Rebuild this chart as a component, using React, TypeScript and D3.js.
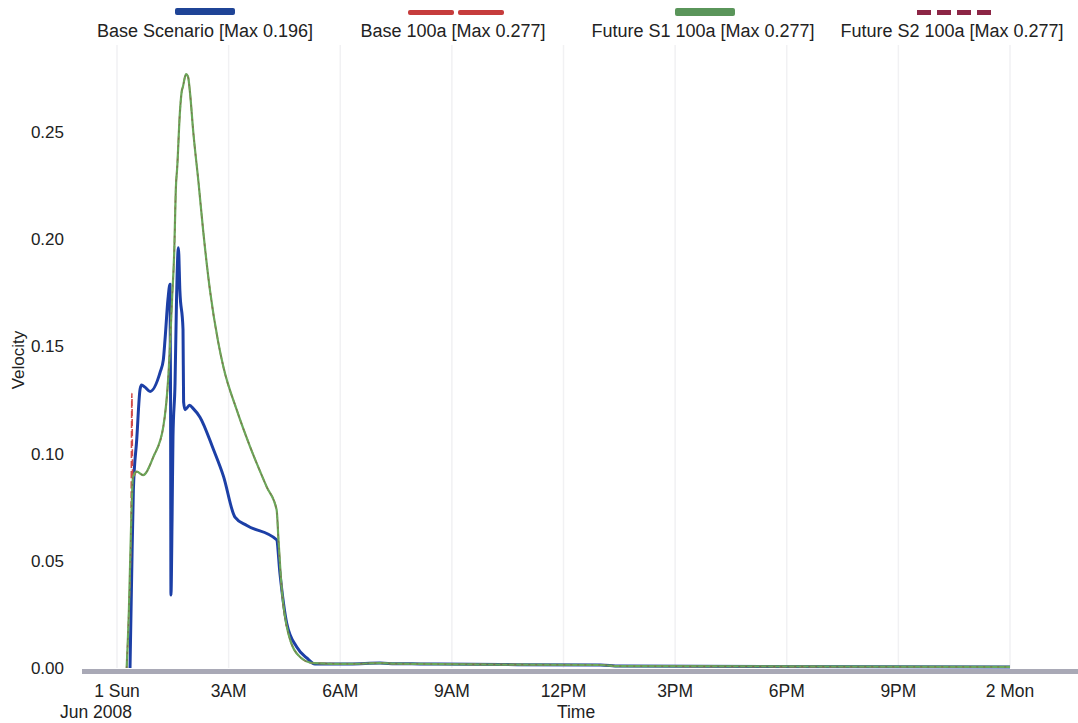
import React from "react";
import * as d3 from "d3";

// Velocity time series, hours after 1 Jun 2008 00:00
const baseScenario: [number, number][] = [
  [0.35, 0], [0.395, 0.044], [0.44, 0.083], [0.53, 0.1065], [0.62, 0.13], [0.66, 0.132],
  [0.75, 0.131], [0.89, 0.129], [1.16, 0.138], [1.245, 0.1437], [1.29, 0.153], [1.37, 0.172],
  [1.425, 0.179], [1.44, 0.125], [1.45, 0.034], [1.48, 0.069], [1.505, 0.108], [1.56, 0.133],
  [1.6, 0.172], [1.65, 0.196], [1.69, 0.176], [1.774, 0.158], [1.79, 0.124], [1.83, 0.1205],
  [1.95, 0.1225], [2.05, 0.121], [2.23, 0.117], [2.59, 0.102], [2.86, 0.0895], [3.17, 0.0704],
  [3.49, 0.0665], [4.29, 0.0598], [4.38, 0.044], [4.56, 0.021], [4.83, 0.0098], [5.1, 0.0047],
  [5.32, 0.0019],
];

const floodRise: [number, number][] = [
  [0.26, 0], [0.32, 0.027], [0.376, 0.0645], [0.43, 0.089], [0.53, 0.0916], [0.7, 0.09],
  [0.98, 0.0986], [1.245, 0.1126], [1.38, 0.136], [1.48, 0.172], [1.54, 0.195],
  [1.58, 0.223], [1.62, 0.234], [1.69, 0.259], [1.74, 0.269], [1.77, 0.271], [1.855, 0.277],
  [1.91, 0.2757], [1.96, 0.2687], [2.05, 0.25], [2.19, 0.2266], [2.32, 0.2033], [2.5, 0.176],
  [2.72, 0.152], [2.86, 0.1404], [3.22, 0.1203], [3.575, 0.1033], [4.02, 0.0846],
  [4.29, 0.0738], [4.34, 0.0598], [4.43, 0.0364], [4.6, 0.0164], [4.92, 0.0051], [5.27, 0.0023],
];

const recessionTail: [number, number][] = [
  [6.26, 0.0019], [7.07, 0.0023], [7.47, 0.002], [8.15, 0.0019], [10.3, 0.0016],
  [13.0, 0.0014], [13.5, 0.0009], [24.0, 0.0005],
];

const base100aStart: [number, number][] = [
  [0.26, 0], [0.32, 0.027], [0.376, 0.0645], [0.4, 0.128], [0.42, 0.09],
];

const base100a = [...base100aStart, ...floodRise.filter((d) => d[0] > 0.42), ...recessionTail];
const futureS1 = [...floodRise, ...recessionTail];
const futureS2 = [...floodRise, ...recessionTail];
const baseScenarioFull = [...baseScenario, ...recessionTail];

const legendLabels = [
  "Base Scenario [Max 0.196]",
  "Base 100a [Max 0.277]",
  "Future S1 100a [Max 0.277]",
  "Future S2 100a [Max 0.277]",
];

const xTickHours = [0, 3, 6, 9, 12, 15, 18, 21, 24];
const xTickLabels = ["1 Sun", "3AM", "6AM", "9AM", "12PM", "3PM", "6PM", "9PM", "2 Mon"];
const yTicks = [0, 0.05, 0.1, 0.15, 0.2, 0.25];

const W = 1078;
const H = 723;
const start = new Date(2008, 5, 1, 0, 0);
const toDate = (h: number) => new Date(start.getTime() + h * 3600 * 1000);

const x = d3.scaleTime().domain([toDate(0), toDate(24)]).range([117, 1010]);
const y = d3.scaleLinear().domain([0, 0.25]).range([668, 132]);

const line = d3
  .line<[number, number]>()
  .x((d) => x(toDate(d[0])))
  .y((d) => y(d[1]))
  .curve(d3.curveMonotoneX);

const font = "'Liberation Sans', Arial, sans-serif";

export default function App() {
  const legendCenters = [205, 453, 703, 952];
  return (
    <svg
      width={W}
      height={H}
      style={{ position: "absolute", left: 0, top: 0, background: "#fff" }}
      fontFamily={font}
    >
      {/* faint vertical grid */}
      {xTickHours.map((h) => (
        <line key={h} x1={x(toDate(h))} x2={x(toDate(h))} y1={45} y2={668} stroke="#f1f1f3" strokeWidth={1.5} />
      ))}

      {/* y tick labels */}
      {yTicks.map((t) => (
        <text key={t} x={64} y={y(t)} dy="0.35em" textAnchor="end" fontSize={17} fill="#222">
          {t.toFixed(2)}
        </text>
      ))}
      <text transform="translate(24,360) rotate(-90)" textAnchor="middle" fontSize={17} fill="#222">
        Velocity
      </text>

      {/* series */}
      <path d={line(baseScenarioFull) || ""} fill="none" stroke="#1c3fa6" strokeWidth={3} strokeLinejoin="round" />
      <path d={line(base100a) || ""} fill="none" stroke="#d04848" strokeWidth={1.6} strokeDasharray="7,3" />
      <path d={line(futureS1) || ""} fill="none" stroke="#6aa85a" strokeWidth={2.2} strokeLinejoin="round" />
      <path d={line(futureS2) || ""} fill="none" stroke="#8a3a40" strokeWidth={1} strokeDasharray="2,5" opacity={0.55} />

      {/* x axis bar */}
      <rect x={82} y={669} width={996} height={5} fill="#a9a9b6" />

      {/* x tick labels */}
      {xTickHours.map((h, i) => (
        <text key={h} x={x(toDate(h))} y={697} textAnchor="middle" fontSize={17.5} fill="#222">
          {xTickLabels[i]}
        </text>
      ))}
      <text x={96} y={718} textAnchor="middle" fontSize={17.5} fill="#222">
        Jun 2008
      </text>
      <text x={576} y={718} textAnchor="middle" fontSize={17.5} fill="#222">
        Time
      </text>

      {/* legend */}
      <rect x={legendCenters[0] - 30} y={8} width={60} height={7} rx={2} fill="#1f4496" />
      <rect x={legendCenters[1] - 45} y={10} width={46} height={5} rx={2} fill="#c63c3c" />
      <rect x={legendCenters[1] + 5} y={10} width={46} height={5} rx={2} fill="#c63c3c" />
      <rect x={legendCenters[2] - 28} y={8} width={60} height={8} rx={2} fill="#5a955a" />
      {[0, 1, 2, 3].map((k) => (
        <rect key={k} x={917 + k * 20} y={10} width={14} height={5} fill="#8c2545" />
      ))}
      {legendLabels.map((l, i) => (
        <text key={l} x={legendCenters[i]} y={37} textAnchor="middle" fontSize={18} fill="#222">
          {l}
        </text>
      ))}
    </svg>
  );
}
